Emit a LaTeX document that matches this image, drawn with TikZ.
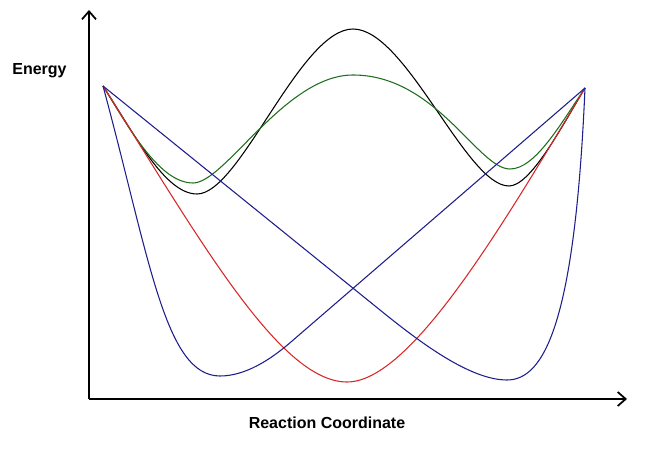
\documentclass[tikz,border=0pt]{standalone}
\usepackage{fontspec}
\setmainfont{Liberation Sans}
\usetikzlibrary{arrows.meta}
\definecolor{cblue}{RGB}{30,30,140}
\definecolor{cred}{RGB}{215,40,40}
\definecolor{cgreen}{RGB}{30,110,30}
\begin{document}
\begin{tikzpicture}[x=0.75pt,y=-0.75pt,
  axis/.style={line width=2.2pt,-{Straight Barb[length=6pt,width=10.5pt,line width=1.3pt]}},
  curve/.style={line width=0.8pt},
  lbl/.style={font=\bfseries\fontsize{12pt}{14pt}\selectfont,anchor=base}]
\useasboundingbox (0,0) rectangle (647,449);
\coordinate (O) at (89,399);
\coordinate (Ytop) at (89,10);
\coordinate (Xend) at (627,399);
\draw[axis] (O) -- (Ytop);
\draw[axis] (O) -- (Xend);
\node[lbl] (E) at (39.5,75) {Energy};
\node[lbl] (RC) at (327,428) {Reaction Coordinate};
\coordinate (S) at (103,86);
\coordinate (T) at (585,88);
% black
\draw[curve,black] (S) .. controls (135,135) and (165,194) .. (197,194)
  .. controls (240,194) and (300,29) .. (353,29)
  .. controls (406,29) and (466,186) .. (509,186)
  .. controls (530,186) and (560,130) .. (T);
% green
\draw[curve,cgreen] (S) .. controls (130,130) and (160,183) .. (193,183)
  .. controls (225,183) and (285,75) .. (353,75)
  .. controls (436,75) and (478,169) .. (510,169)
  .. controls (535,169) and (560,125) .. (T);
% red
\draw[curve,cred] (S) .. controls (200,240) and (280,382) .. (347,382)
  .. controls (410,382) and (500,230) .. (T);
% blue left well
\draw[curve,cblue] (S) .. controls (150,260) and (165,376) .. (220,376)
  .. controls (245,376) and (270,360) .. (290,342.8) -- (T);
% blue right well
\draw[curve,cblue] (S) -- (380,310) .. controls (420,342.4) and (470,380) .. (507,380)
  .. controls (545,380) and (575,320) .. (T);
\end{tikzpicture}
\end{document}
